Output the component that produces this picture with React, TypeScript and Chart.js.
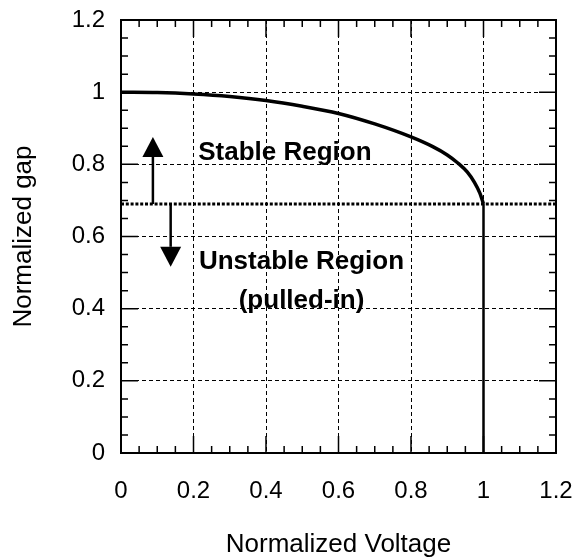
import React, { useEffect, useRef } from 'react';
import { Chart, registerables } from 'chart.js';

Chart.register(...registerables);

// Curve: normalized gap vs normalized voltage
const curveX = [0, 0.1, 0.2, 0.3, 0.4, 0.5, 0.6, 0.7, 0.8, 0.86, 0.9, 0.93, 0.955, 0.975, 0.99, 1.0];
const curveY = [1.0, 0.999, 0.995, 0.988, 0.977, 0.961, 0.941, 0.912, 0.876, 0.849, 0.826, 0.803, 0.779, 0.75, 0.72, 0.69];
// Vertical pull-in drop
const dropX = [1.0, 1.0];
const dropY = [0.69, 0];
// Dotted pull-in level
const pullInX = [0, 1.2];
const pullInY = [0.69, 0.69];

const xTickValues = [0, 0.2, 0.4, 0.6, 0.8, 1.0, 1.2];
const xTickLabels = ['0', '0.2', '0.4', '0.6', '0.8', '1', '1.2'];
const yTickValues = [0, 0.2, 0.4, 0.6, 0.8, 1.0, 1.2];
const yTickLabels = ['0', '0.2', '0.4', '0.6', '0.8', '1', '1.2'];

const arrowX = [0.088, 0.137];
const arrowFromY = [0.69, 0.69];
const arrowToY = [0.876, 0.516];

const noteTexts = ['Stable Region', 'Unstable Region', '(pulled-in)'];
const noteX = [0.213, 0.498, 0.498];
const noteY = [0.812, 0.51, 0.402];
const noteAlign: CanvasTextAlign[] = ['left', 'center', 'center'];

const FAMILY = "'Liberation Sans', Arial, Helvetica, sans-serif";

const lookup = (vals: number[], labels: string[]) => (v: any) => {
  const i = vals.findIndex((t) => Math.abs(t - Number(v)) < 1e-6);
  return i >= 0 ? labels[i] : '';
};

const decorPlugin = {
  id: 'decor',
  afterDatasetsDraw(chart: any) {
    const { ctx, chartArea: a, scales } = chart;
    const xs = scales.x;
    const ys = scales.y;
    ctx.save();
    ctx.fillStyle = '#000';
    ctx.strokeStyle = '#000';
    for (let i = 0; i < arrowX.length; i++) {
      const px = xs.getPixelForValue(arrowX[i]);
      const p0 = ys.getPixelForValue(arrowFromY[i]);
      const p1 = ys.getPixelForValue(arrowToY[i]);
      const dir = p1 < p0 ? -1 : 1;
      const headLen = 20;
      const halfW = 10.5;
      ctx.lineWidth = 2.5;
      ctx.beginPath();
      ctx.moveTo(px, p0);
      ctx.lineTo(px, p1 - dir * headLen);
      ctx.stroke();
      ctx.beginPath();
      ctx.moveTo(px, p1);
      ctx.lineTo(px - halfW, p1 - dir * headLen);
      ctx.lineTo(px + halfW, p1 - dir * headLen);
      ctx.closePath();
      ctx.fill();
    }
    ctx.font = `bold 26px ${FAMILY}`;
    ctx.textBaseline = 'alphabetic';
    for (let i = 0; i < noteTexts.length; i++) {
      ctx.textAlign = noteAlign[i];
      ctx.fillText(noteTexts[i], xs.getPixelForValue(noteX[i]), ys.getPixelForValue(noteY[i]));
    }
    ctx.lineWidth = 1.5;
    ctx.beginPath();
    for (let k = 0; k <= 24; k++) {
      const v = k * 0.05;
      const major = k % 4 === 0;
      const len = major ? 17 : 7;
      const px = xs.getPixelForValue(v);
      ctx.moveTo(px, a.bottom);
      ctx.lineTo(px, a.bottom - len);
      ctx.moveTo(px, a.top);
      ctx.lineTo(px, a.top + len);
      const py = ys.getPixelForValue(v);
      ctx.moveTo(a.left, py);
      ctx.lineTo(a.left + len, py);
      ctx.moveTo(a.right, py);
      ctx.lineTo(a.right - len, py);
    }
    ctx.stroke();
    ctx.lineWidth = 2;
    ctx.strokeRect(a.left, a.top, a.right - a.left, a.bottom - a.top);
    ctx.restore();
  },
};

const zeroPad = (s: any) => {
  s.paddingLeft = 0;
  s.paddingRight = 0;
  s.paddingTop = 0;
  s.paddingBottom = 0;
};

export default function App() {
  const ref = useRef<HTMLCanvasElement | null>(null);
  useEffect(() => {
    if (!ref.current) return;
    const chart = new Chart(ref.current, {
      type: 'line',
      data: {
        datasets: [
          {
            data: curveX.map((x, i) => ({ x, y: curveY[i] })),
            borderColor: '#000',
            borderWidth: 3.5,
            pointRadius: 0,
            cubicInterpolationMode: 'monotone',
            fill: false,
          },
          {
            data: dropX.map((x, i) => ({ x, y: dropY[i] })),
            borderColor: '#000',
            borderWidth: 2.5,
            pointRadius: 0,
            fill: false,
          },
          {
            data: pullInX.map((x, i) => ({ x, y: pullInY[i] })),
            borderColor: '#000',
            borderWidth: 3,
            borderDash: [3, 1.8],
            pointRadius: 0,
            fill: false,
          },
        ],
      },
      options: {
        responsive: false,
        animation: false,
        events: [],
        layout: { padding: { left: 0, right: 18, top: 20, bottom: 0 } },
        plugins: { legend: { display: false }, tooltip: { enabled: false } },
        scales: {
          x: {
            type: 'linear',
            min: 0,
            max: 1.2,
            afterBuildTicks: (s: any) => {
              s.ticks = xTickValues.map((v) => ({ value: v }));
            },
            ticks: {
              padding: 24,
              color: '#000',
              maxRotation: 0,
              autoSkip: false,
              font: { size: 24, family: FAMILY },
              callback: lookup(xTickValues, xTickLabels),
            },
            grid: { color: '#000', lineWidth: 1, drawTicks: false },
            border: { display: false, dash: [4, 3] },
            title: {
              display: true,
              text: 'Normalized Voltage',
              color: '#000',
              font: { size: 26, family: FAMILY },
              padding: { top: 0, bottom: 0 },
            },
            afterFit: (s: any) => {
              s.height = 107;
              zeroPad(s);
            },
          },
          y: {
            type: 'linear',
            min: 0,
            max: 1.2,
            afterBuildTicks: (s: any) => {
              s.ticks = yTickValues.map((v) => ({ value: v }));
            },
            ticks: {
              padding: 16,
              color: '#000',
              autoSkip: false,
              font: { size: 24, family: FAMILY },
              callback: lookup(yTickValues, yTickLabels),
            },
            grid: { color: '#000', lineWidth: 1, drawTicks: false },
            border: { display: false, dash: [4, 3] },
            title: {
              display: true,
              text: 'Normalized gap',
              color: '#000',
              font: { size: 26, family: FAMILY },
              padding: { top: 8, bottom: 0 },
            },
            afterFit: (s: any) => {
              s.width = 121;
              zeroPad(s);
            },
          },
        },
      },
      plugins: [decorPlugin],
    } as any);
    return () => chart.destroy();
  }, []);
  return (
    <div style={{ position: 'fixed', left: 0, top: 0, width: 574, height: 560, background: '#fff' }}>
      <canvas ref={ref} width={574} height={560} style={{ display: 'block' }} />
    </div>
  );
}
